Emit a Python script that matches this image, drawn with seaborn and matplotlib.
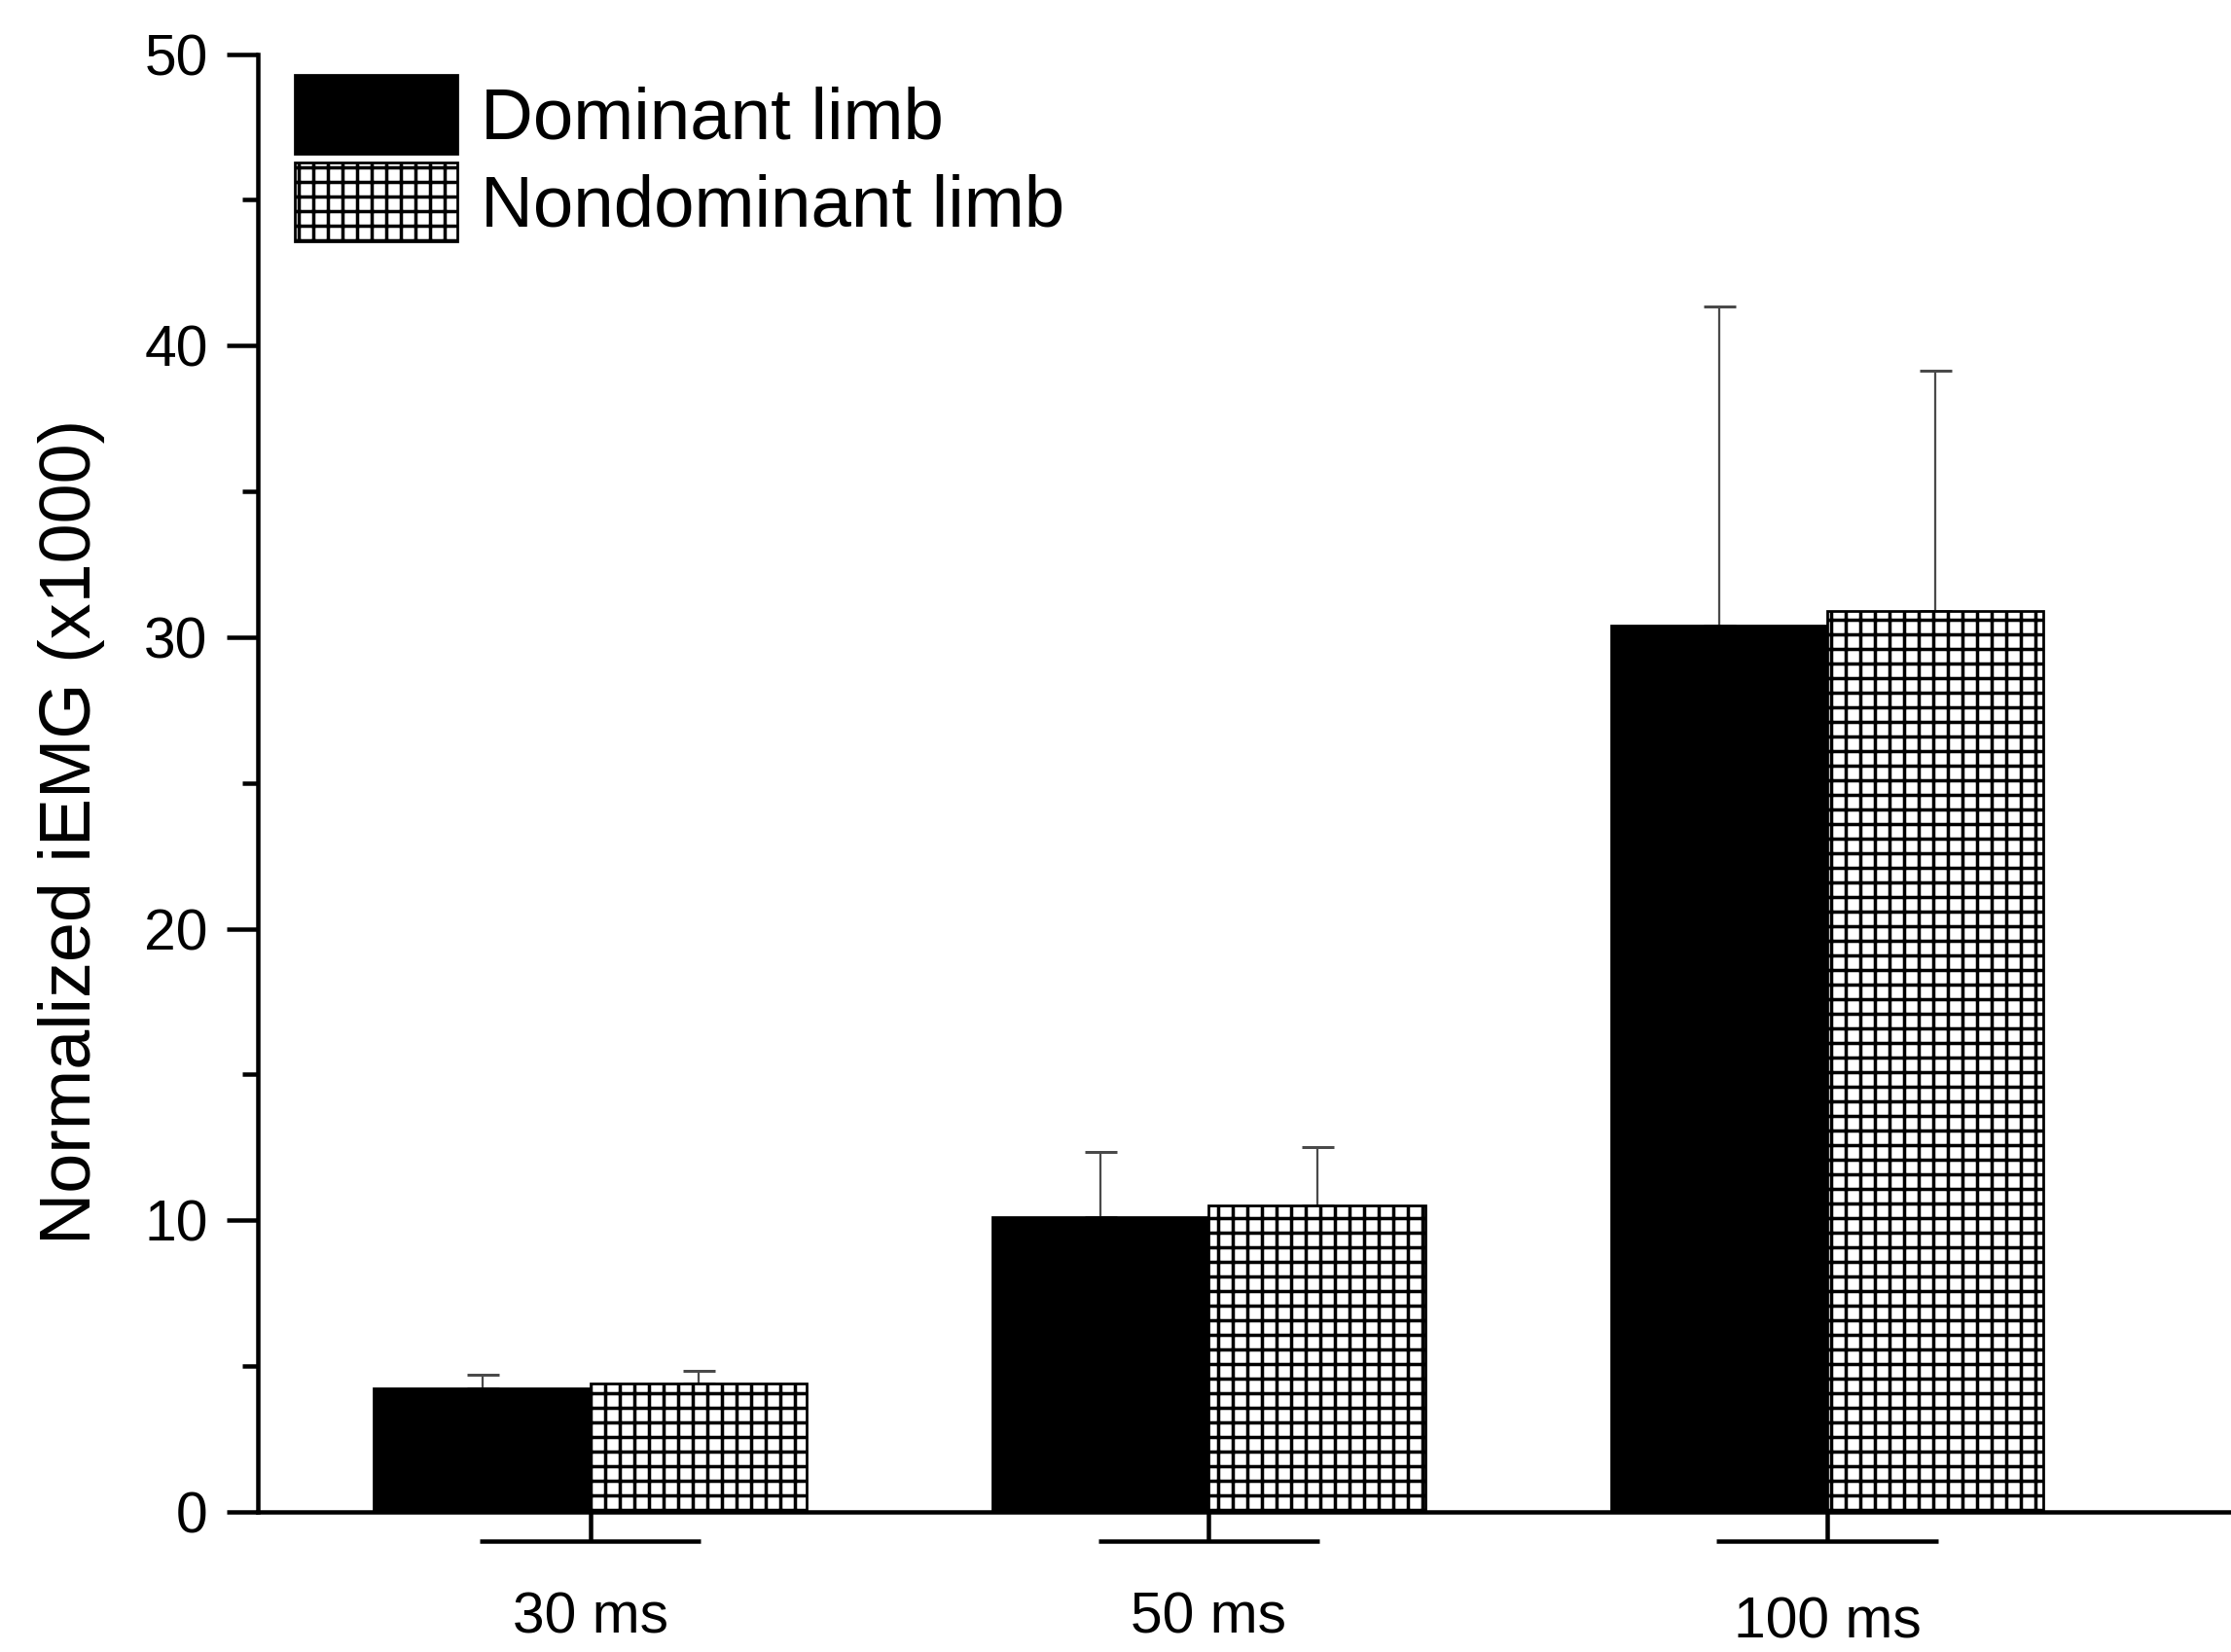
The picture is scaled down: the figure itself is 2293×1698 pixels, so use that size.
import matplotlib
matplotlib.use("Agg")
import matplotlib.pyplot as plt
import matplotlib.transforms as mtransforms
from matplotlib.patches import Patch
from matplotlib.ticker import MultipleLocator
import numpy as np
import pandas as pd
import seaborn as sns

# Group labels, series names and measured values (mean and SD, x1000)
durations = ["30 ms", "50 ms", "100 ms"]
limbs = ["Dominant limb", "Nondominant limb"]
dominant_mean = [4.25, 10.1, 30.4]
nondominant_mean = [4.4, 10.5, 30.9]
dominant_sd = [0.45, 2.25, 10.95]
nondominant_sd = [0.45, 2.0, 8.25]
y_ticks = [0, 10, 20, 30, 40, 50]

sns.set_style("ticks")
plt.rcParams["font.family"] = ["Liberation Sans", "DejaVu Sans"]
plt.rcParams["text.color"] = "black"
plt.rcParams["axes.labelcolor"] = "black"
plt.rcParams["axes.edgecolor"] = "black"
plt.rcParams["xtick.color"] = "black"
plt.rcParams["ytick.color"] = "black"
plt.rcParams["hatch.linewidth"] = 1.4
plt.rcParams["hatch.color"] = "black"

DPI = 180
W, H = 2293, 1698
fig = plt.figure(figsize=(W / DPI, H / DPI), dpi=DPI)
ax = fig.add_axes([265 / W, 1 - 1554 / H, 1 - 265 / W, (1554 - 55.6) / H])

df = pd.DataFrame({
    "duration": durations * 2,
    "limb": [limbs[0]] * len(durations) + [limbs[1]] * len(durations),
    "value": dominant_mean + nondominant_mean,
})

sns.barplot(data=df, x="duration", y="value", hue="limb",
            order=durations, hue_order=limbs,
            palette=["black", "white"], saturation=1, width=0.7,
            errorbar=None, edgecolor="black", linewidth=1.1,
            legend=False, ax=ax, zorder=2)

# hatched fill for the nondominant series
for patch in ax.containers[1]:
    patch.set_hatch("++")

# one-sided (upper) SD error bars on each bar
for container, sds in zip(ax.containers[:2], [dominant_sd, nondominant_sd]):
    xs = [p.get_x() + p.get_width() / 2 for p in container]
    tops = [p.get_height() for p in container]
    ax.errorbar(xs, tops, yerr=[np.zeros(len(sds)), sds], fmt="none",
                ecolor="#4a4a4a", elinewidth=0.9, capsize=6.6,
                capthick=1.2, zorder=1)

ax.set_xlim(-0.538, 2.653)
ax.set_ylim(0, 50)
ax.set_yticks(y_ticks)
ax.yaxis.set_minor_locator(MultipleLocator(5))

for side in ("top", "right"):
    ax.spines[side].set_visible(False)
for side in ("left", "bottom"):
    ax.spines[side].set_linewidth(1.8)

ax.tick_params(axis="y", which="major", direction="out", length=12.8,
               width=1.8, pad=7.8, labelsize=23.5)
ax.tick_params(axis="y", which="minor", direction="out", length=6.4,
               width=1.8)
ax.tick_params(axis="x", which="major", direction="out", length=12,
               width=1.8, pad=20.5, labelsize=23.5)

# the last group label sits a touch lower than the others
last = ax.get_xticklabels()[-1]
last.set_transform(last.get_transform() +
                   mtransforms.ScaledTranslation(0, -2.0 / 72, fig.dpi_scale_trans))

ax.set_xlabel("")
ax.set_ylabel("Normalized iEMG (x1000)", fontsize=29.5)
ax.yaxis.set_label_coords(-0.0774, 0.4664)

# horizontal bracket under each group tick
trans = mtransforms.blended_transform_factory(ax.transData, ax.transAxes)
for i in range(len(durations)):
    ax.plot([i - 0.1786, i + 0.1786], [-0.02, -0.02], transform=trans,
            color="black", lw=1.8, clip_on=False, solid_capstyle="butt")

handles = [
    Patch(facecolor="black", edgecolor="black", lw=1.1),
    Patch(facecolor="white", edgecolor="black", lw=1.1, hatch="++"),
]
ax.legend(handles=handles, labels=limbs, loc="upper left",
          bbox_to_anchor=(0.0187, 0.9857), frameon=False, fontsize=29.8,
          handlelength=2.24, handleheight=1.295, handletextpad=0.32,
          labelspacing=0.117, borderpad=0, borderaxespad=0)

fig.savefig("out.png", dpi=DPI)
